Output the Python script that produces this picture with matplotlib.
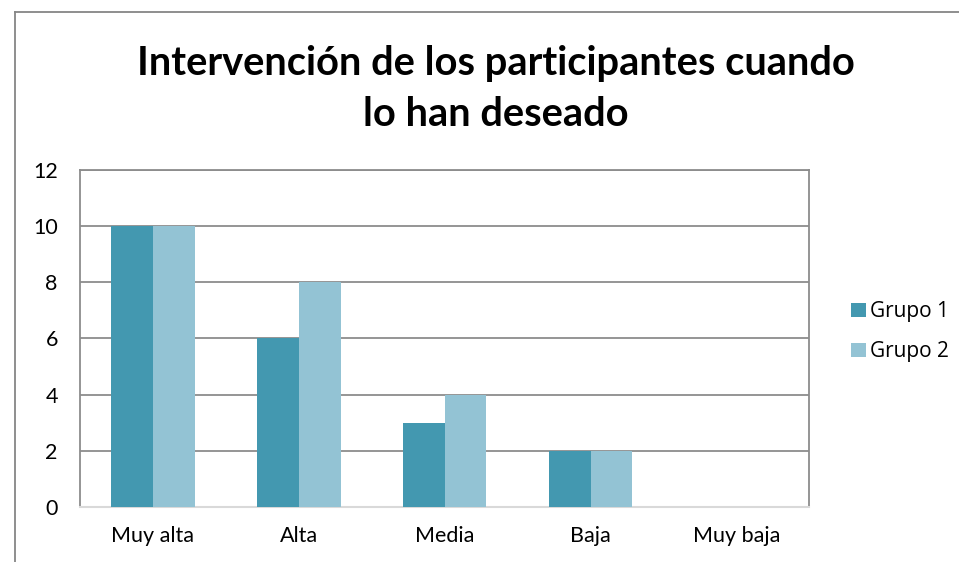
import numpy as np
import matplotlib.pyplot as plt
from matplotlib.lines import Line2D

# datos del gráfico
categorias = ['Muy alta', 'Alta', 'Media', 'Baja', 'Muy baja']
grupo1 = [10, 6, 3, 2, 0]
grupo2 = [10, 8, 4, 2, 0]
series = ['Grupo 1', 'Grupo 2']
yticks = [0, 2, 4, 6, 8, 10, 12]

plt.rcParams['font.family'] = ['Lato', 'DejaVu Sans']

fig = plt.figure(figsize=(9.59, 5.62), dpi=100)
ax = fig.add_axes([0.0834, 0.0979, 0.7607, 0.5996])

x = np.arange(len(categorias))
ancho = 1 / 3.5
ax.bar(x - ancho / 2, grupo1, ancho, color='#4398B0', label=series[0], zorder=3)
ax.bar(x + ancho / 2, grupo2, ancho, color='#93C3D4', label=series[1], zorder=3)

ax.set_xlim(-0.5, len(categorias) - 0.5)
ax.set_ylim(0, 12)
ax.set_yticks(yticks)
ax.set_xticks(x)
ax.set_xticklabels(categorias)
ax.tick_params(axis='both', length=0, labelsize=15.5, colors='black')
ax.tick_params(axis='y', pad=16)
ax.tick_params(axis='x', pad=14)
ax.grid(axis='y', color='#8C8C8C', linewidth=1.3, zorder=0)
for s in ['left', 'right', 'top']:
    ax.spines[s].set_color('#8C8C8C')
    ax.spines[s].set_linewidth(1.3)
ax.spines['bottom'].set_color('#D9D9D9')
ax.spines['bottom'].set_linewidth(1.5)

# título
fig.text(0.517, 0.842, 'Intervención de los participantes cuando\nlo han deseado',
         ha='center', va='center', fontsize=28.7, fontweight='bold', linespacing=1.45)

# leyenda
fig.legend(loc='center left', bbox_to_anchor=(0.868, 0.4097), frameon=False,
           prop={'family': 'Open Sans', 'size': 15}, handlelength=0.7,
           handleheight=0.7, handletextpad=0.2, labelspacing=0.9)

# marco del gráfico (solo bordes visibles)
fig.add_artist(Line2D([15 / 959, 15 / 959], [0, 1 - 12 / 562], color='#868686', lw=1.3))
fig.add_artist(Line2D([15 / 959, 1], [1 - 12 / 562, 1 - 12 / 562], color='#868686', lw=1.3))

plt.savefig('out.png', dpi=100)
